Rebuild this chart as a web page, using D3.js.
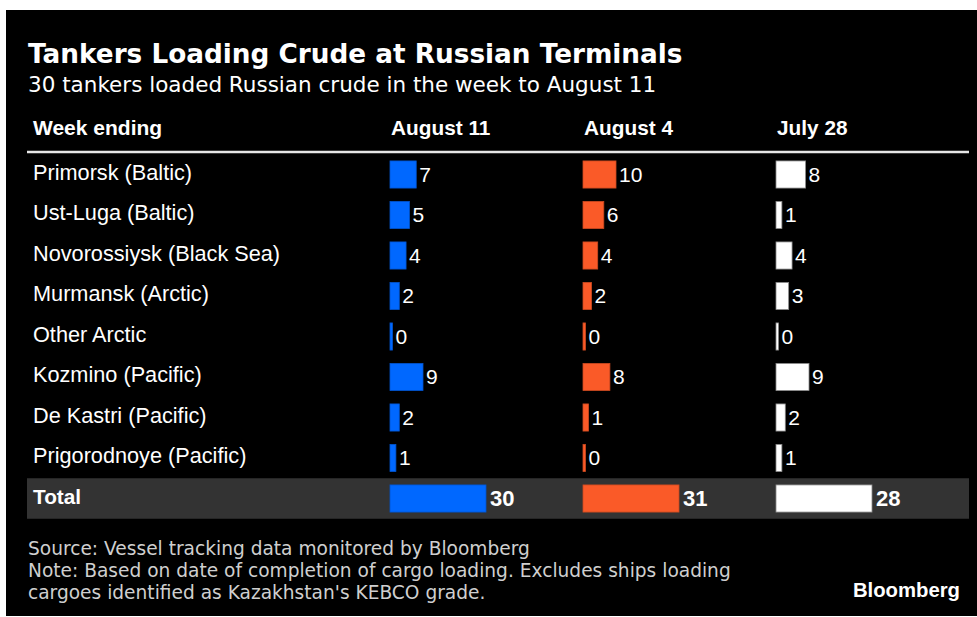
<!DOCTYPE html>
<html>
<head>
<meta charset="utf-8">
<script src="https://cdn.jsdelivr.net/npm/d3@7"></script>
<style>
  body { margin: 0; background: #fff; }
  text { font-family: "Liberation Sans", Arial, sans-serif; }
</style>
</head>
<body>
<div id="chart"></div>
<script>
// data
var terminals = ["Primorsk (Baltic)", "Ust-Luga (Baltic)", "Novorossiysk (Black Sea)",
  "Murmansk (Arctic)", "Other Arctic", "Kozmino (Pacific)", "De Kastri (Pacific)",
  "Prigorodnoye (Pacific)"];
var weeks = ["August 11", "August 4", "July 28"];
var aug11 = [7, 5, 4, 2, 0, 9, 2, 1];
var aug4 = [10, 6, 4, 2, 0, 8, 1, 0];
var jul28 = [8, 1, 4, 3, 0, 9, 2, 1];
var totals = [30, 31, 28];
var colors = ["#0068ff", "#fa5a28", "#ffffff"];

var series = [aug11, aug4, jul28];

var width = 977;
var height = 617;

var svg = d3.select('#chart')
  .append('svg')
  .attr('width', width)
  .attr('height', height);

svg.append('rect')
  .attr('x', 6)
  .attr('y', 10)
  .attr('width', width - 6)
  .attr('height', 606)
  .attr('fill', '#000');

svg.append('text')
  .text("Tankers Loading Crude at Russian Terminals")
  .attr('x', 28)
  .attr('y', 63)
  .attr('fill', '#fff')
  .style('font-family', '"DejaVu Sans", sans-serif')
  .style('font-weight', 'bold')
  .style('font-size', '26.3px');

svg.append('text')
  .text("30 tankers loaded Russian crude in the week to August 11")
  .attr('x', 28)
  .attr('y', 92)
  .attr('fill', '#fff')
  .style('font-family', '"DejaVu Sans", sans-serif')
  .style('font-size', '21.5px');

// rows: the terminals plus the total line
var rows = terminals.concat(["Total"]);

var y = d3.scaleBand()
  .domain(rows)
  .range([154.25, 518.75])
  .paddingInner(0.33)
  .paddingOuter(0.165);

var x = d3.scaleBand()
  .domain(weeks)
  .range([390, 969])
  .align(0);

// header
svg.append('text')
  .text("Week ending")
  .attr('x', 33)
  .attr('y', 135)
  .attr('fill', '#fff')
  .style('font-weight', 'bold')
  .style('font-size', '21px');

svg.selectAll('.colhead')
  .data(weeks)
  .enter()
  .append('text')
  .attr('class', 'colhead')
  .text(d => d)
  .attr('x', d => x(d) + 1)
  .attr('y', 135)
  .attr('fill', '#fff')
  .style('font-weight', 'bold')
  .style('font-size', '20.8px');

svg.append('line')
  .attr('x1', 27)
  .attr('x2', 969)
  .attr('y1', 152)
  .attr('y2', 152)
  .attr('stroke', '#e6e6e6')
  .attr('stroke-width', 2.5);

// total band
var step = y.step();
svg.append('rect')
  .attr('x', 27)
  .attr('y', y("Total") + y.bandwidth() / 2 - step / 2)
  .attr('width', 942)
  .attr('height', step)
  .attr('fill', '#333333');

// row labels
svg.selectAll('.rowlabel')
  .data(rows)
  .enter()
  .append('text')
  .attr('class', 'rowlabel')
  .text(d => d)
  .attr('x', 33)
  .attr('y', d => y(d) + y.bandwidth() / 2 + 5)
  .attr('fill', '#fff')
  .style('font-weight', d => d === "Total" ? 'bold' : 'normal')
  .style('font-size', d => d === "Total" ? '20.8px' : '21.7px');

weeks.forEach(function (week, c) {
  var vals = series[c];
  var w = d3.scaleLinear()
    .domain([0, d3.max(vals)])
    .range([2.5, 33]);
  var wt = d3.scaleLinear()
    .domain([0, totals[c]])
    .range([2.5, 96]);
  var col = d3.color(colors[c]);
  var edge = c === 2 ? '#888' : col.darker(0.6);

  var g = svg.append('g');

  g.selectAll('rect')
    .data(vals)
    .enter()
    .append('rect')
    .attr('x', x(week))
    .attr('y', (d, i) => y(terminals[i]))
    .attr('width', d => w(d))
    .attr('height', y.bandwidth())
    .attr('fill', colors[c])
    .attr('stroke', edge)
    .attr('stroke-width', 0.8);

  g.selectAll('text')
    .data(vals)
    .enter()
    .append('text')
    .text(d => d)
    .attr('x', d => x(week) + w(d) + 3)
    .attr('y', (d, i) => y(terminals[i]) + y.bandwidth() / 2 + 7)
    .attr('fill', '#fff')
    .style('font-size', '21px');

  g.append('rect')
    .attr('x', x(week))
    .attr('y', y("Total"))
    .attr('width', wt(totals[c]))
    .attr('height', y.bandwidth())
    .attr('fill', colors[c])
    .attr('stroke', edge)
    .attr('stroke-width', 0.8);

  g.append('text')
    .text(totals[c])
    .attr('x', x(week) + wt(totals[c]) + 4)
    .attr('y', y("Total") + y.bandwidth() / 2 + 7.5)
    .attr('fill', '#fff')
    .style('font-weight', 'bold')
    .style('font-size', '22px');
});

// footer
var notes = ["Source: Vessel tracking data monitored by Bloomberg",
  "Note: Based on date of completion of cargo loading. Excludes ships loading",
  "cargoes identified as Kazakhstan's KEBCO grade."];

svg.selectAll('.note')
  .data(notes)
  .enter()
  .append('text')
  .attr('class', 'note')
  .text(d => d)
  .attr('x', 28)
  .attr('y', (d, i) => 555 + i * 22)
  .attr('fill', '#cfcfcf')
  .style('font-family', '"DejaVu Sans", sans-serif')
  .style('font-size', '18.6px');

svg.append('text')
  .text("Bloomberg")
  .attr('x', 960)
  .attr('y', 597)
  .attr('text-anchor', 'end')
  .attr('fill', '#fff')
  .style('font-weight', 'bold')
  .style('font-size', '20.3px');
</script>
</body>
</html>
